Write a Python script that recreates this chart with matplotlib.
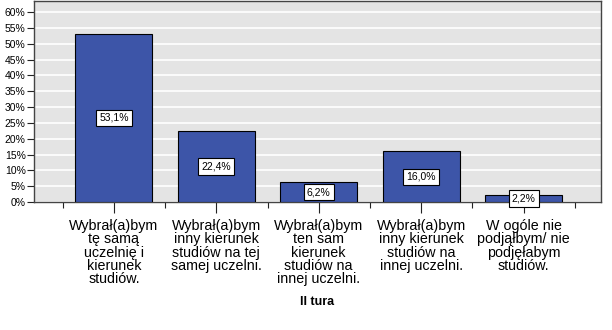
import numpy as np
import matplotlib.pyplot as plt
from matplotlib.ticker import FixedLocator

plt.rcParams['font.family'] = ['Liberation Sans', 'DejaVu Sans']

categories = ['Wybrał(a)bym\ntę samą\nuczelnię i\nkierunek\nstudiów.',
              'Wybrał(a)bym\ninny kierunek\nstudiów na tej\nsamej uczelni.',
              'Wybrał(a)bym\nten sam\nkierunek\nstudiów na\ninnej uczelni.',
              'Wybrał(a)bym\ninny kierunek\nstudiów na\ninnej uczelni.',
              'W ogóle nie\npodjąłbym/ nie\npodjęłabym\nstudiów.']
values = [53.1, 22.4, 6.2, 16.0, 2.2]
labels = ['53,1%', '22,4%', '6,2%', '16,0%', '2,2%']
yticks = [0, 5, 10, 15, 20, 25, 30, 35, 40, 45, 50, 55, 60]

fig = plt.figure(figsize=(6.12, 3.30), dpi=100)
ax = fig.add_axes([34/612, 1 - 202/330, 567/612, 201/330])
ax.set_facecolor('#e4e4e4')

x = np.arange(len(values))
ax.bar(x, values, width=0.75, color='#3d55a8', edgecolor='black', linewidth=0.8, zorder=3)

for xi, v, lab in zip(x, values, labels):
    ax.text(xi, v / 2, lab, ha='center', va='center', fontsize=7.5, zorder=4,
            bbox=dict(boxstyle='square,pad=0.3', facecolor='white', edgecolor='black', linewidth=0.8))

ax.set_xlim(-0.78, 4.756)
ax.set_ylim(0, 63.5)

ax.set_yticks(yticks)
ax.set_yticklabels([f'{t}%' for t in yticks], fontsize=7.5)
ax.yaxis.grid(True, color='white', linewidth=1.2, zorder=1)
ax.set_axisbelow(True)

ax.set_xticks(x)
ax.set_xticklabels(categories, fontsize=10.3, linespacing=0.95)
ax.xaxis.set_minor_locator(FixedLocator(np.arange(-0.5, len(values), 1.0)))
ax.tick_params(axis='x', which='major', length=8, width=0.8, pad=4, color='#222222')
ax.tick_params(axis='x', which='minor', length=4, width=0.8, color='#222222')
ax.tick_params(axis='y', length=5, width=0.8, pad=1, color='#222222')

for s in ax.spines.values():
    s.set_color('#444444')
    s.set_linewidth(1.0)

ax.set_xlabel('II tura', fontsize=9, fontweight='bold', labelpad=7)

fig.savefig('out.png', dpi=100)
